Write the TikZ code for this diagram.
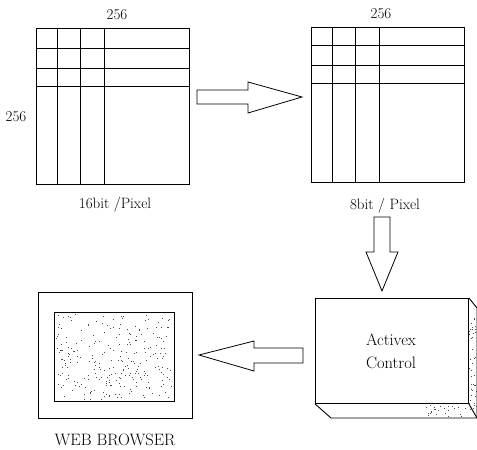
\documentclass[tikz,border=0pt]{standalone}
\usetikzlibrary{calc}
\begin{document}
\begin{tikzpicture}[x=1pt,y=-1pt,
  frame/.style={draw=black,line width=0.9pt},
  gridline/.style={draw=black,line width=1pt},
  blockarrow/.style={draw=black,line width=0.8pt,fill=white,line join=miter},
  lbl/.style={font=\fontsize{15}{17}\selectfont,inner sep=0pt},
  biglbl/.style={font=\fontsize{16.5}{19}\selectfont,inner sep=0pt},
  speck/.style={fill=black!70}]
\useasboundingbox (0,0) rectangle (477,450);
% ---------- left grid (16bit) ----------
\node[frame,minimum width=153pt,minimum height=156pt,inner sep=0pt,anchor=north west] (g1) at (36,28) {};
\foreach \x in {57,80,104} \draw[gridline] (\x,28) -- (\x,184);
\foreach \y in {48,68,86} \draw[gridline] (36,\y) -- (189,\y);
\node[lbl] (t1) at (117,15) {256};
\node[lbl] (l1) at (16,117) {256};
\node[lbl] (c1) at (115,205) {16bit /Pixel};
% ---------- right grid (8bit) ----------
\node[frame,minimum width=153pt,minimum height=155pt,inner sep=0pt,anchor=north west] (g2) at (311,27) {};
\foreach \x in {332,355,379} \draw[gridline] (\x,27) -- (\x,182);
\foreach \y in {45,65,83} \draw[gridline] (311,\y) -- (464,\y);
\node[lbl] (t2) at (381,14) {256};
\node[lbl] (c2) at (385,206) {8bit / Pixel};
% ---------- arrow right ----------
\draw[blockarrow] (197,90) -- (248,90) -- (248,82) -- (302,97) -- (248,113) -- (248,104) -- (197,104) -- cycle;
% ---------- arrow down ----------
\draw[blockarrow] (374,217) -- (390,217) -- (390,252) -- (398,252) -- (382,291) -- (366,252) -- (374,252) -- cycle;
% ---------- Activex box ----------
\node[frame,minimum width=153pt,minimum height=105pt,inner sep=0pt,anchor=north west] (ax) at (315,298) {};
\draw[frame] (ax.south west) -- (331,418) -- (477,418) -- (477,308) -- (ax.north east);
\draw[frame] (477,418) -- (ax.south east);
\node[biglbl,align=center] (axt) at (391,351) {Activex\\[4pt]Control};
% specks on the side faces
\pgfmathsetseed{7}
\foreach \i in {1,...,40} {
  \pgfmathsetmacro{\px}{469+7*rnd}
  \pgfmathsetmacro{\py}{312+100*rnd}
  \fill[speck] (\px,\py) rectangle ++(0.9,0.9);
}
\foreach \i in {1,...,25} {
  \pgfmathsetmacro{\px}{425+45*rnd}
  \pgfmathsetmacro{\py}{405+11*rnd}
  \fill[speck] (\px,\py) rectangle ++(0.9,0.9);
}
% ---------- arrow left ----------
\draw[blockarrow] (303,348) -- (303,363) -- (254,363) -- (254,371) -- (199,355) -- (254,341) -- (254,348) -- cycle;
% ---------- Web browser ----------
\node[frame,minimum width=154pt,minimum height=126pt,inner sep=0pt,anchor=north west] (wb) at (38,292) {};
\node[frame,minimum width=120pt,minimum height=89pt,inner sep=0pt,anchor=north west] (scr) at (54,312) {};
\pgfmathsetseed{3}
\foreach \i in {1,...,260} {
  \pgfmathsetmacro{\px}{56+116*rnd}
  \pgfmathsetmacro{\py}{314+85*rnd}
  \fill[speck] (\px,\py) rectangle ++(1,1);
}
\node[biglbl] (wbt) at (115,440) {WEB BROWSER};
\end{tikzpicture}
\end{document}
